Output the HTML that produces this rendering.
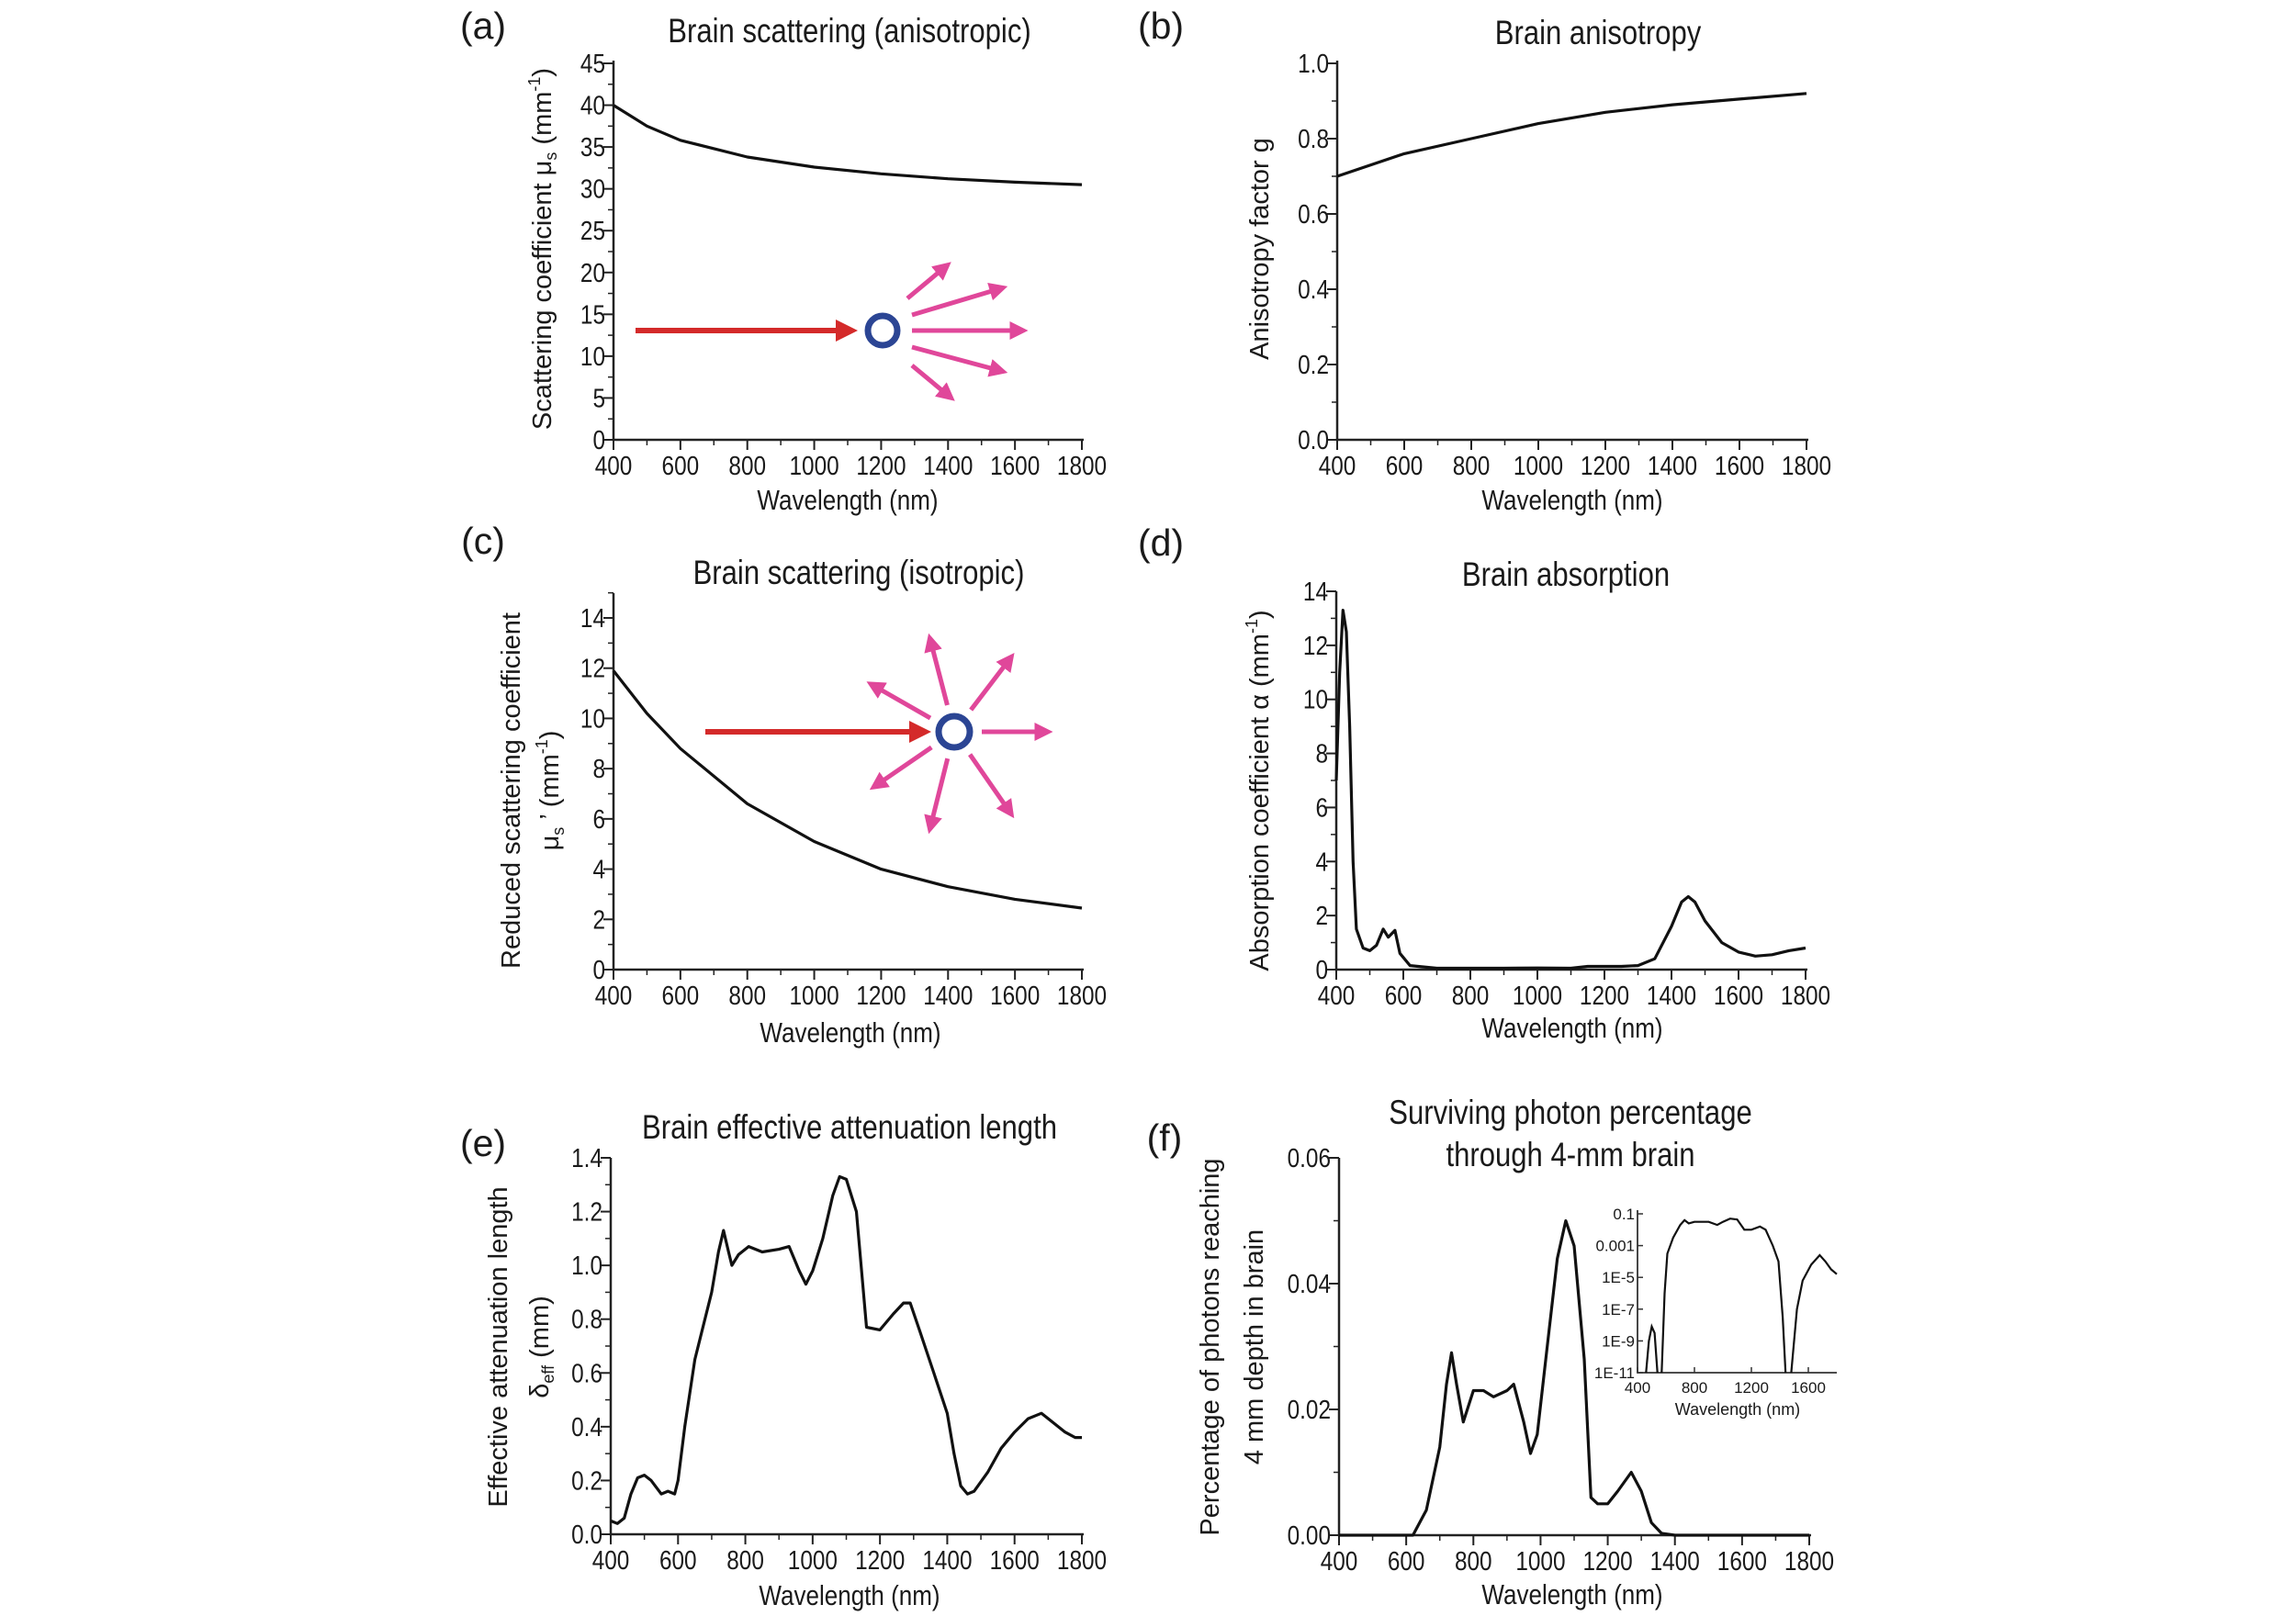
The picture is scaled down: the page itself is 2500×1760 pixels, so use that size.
<!DOCTYPE html>
<html><head><meta charset="utf-8">
<style>
html,body{margin:0;padding:0;background:#fff;}
svg{display:block;}
text{fill:#1a1a1a;}
.nar{font-family:"Liberation Sans Narrow","Liberation Sans",sans-serif;}
.reg{font-family:"Liberation Sans","DejaVu Sans",sans-serif;}
</style></head>
<body>
<svg id="fig" width="2500" height="1760" viewBox="0 0 2500 1760" xmlns="http://www.w3.org/2000/svg">
<defs>
<marker id="arRed" markerWidth="4" markerHeight="4" refX="2.5" refY="2" orient="auto" markerUnits="strokeWidth"><path d="M0,0 L4,2 L0,4 z" fill="#d42a2a"/></marker>
<marker id="arPink" markerWidth="4" markerHeight="4" refX="2.5" refY="2" orient="auto" markerUnits="strokeWidth"><path d="M0,0 L4,2 L0,4 z" fill="#e0479a"/></marker>
</defs>
</svg>
<script>
// ---- data ----
const wlA = [400,500,600,800,1000,1200,1400,1600,1800];
const muS = [40,37.5,35.8,33.8,32.6,31.8,31.2,30.8,30.5];
const wlB = [400,600,800,1000,1200,1400,1600,1800];
const gVals = [0.70,0.76,0.80,0.84,0.87,0.89,0.905,0.92];
const wlC = [400,500,600,800,1000,1200,1400,1600,1800];
const muSr = [11.9,10.2,8.8,6.6,5.1,4.0,3.3,2.8,2.45];
const wlD = [400,410,420,430,440,450,460,480,500,520,540,555,575,590,620,700,900,1000,1100,1150,1250,1300,1350,1400,1430,1450,1470,1500,1550,1600,1650,1700,1750,1800];
const absD = [7,11,13.3,12.5,9,4,1.5,0.8,0.7,0.9,1.5,1.2,1.45,0.6,0.15,0.05,0.05,0.06,0.05,0.12,0.12,0.15,0.4,1.6,2.5,2.7,2.5,1.8,1.0,0.65,0.5,0.55,0.7,0.8];
const wlE = [400,420,440,460,480,500,520,550,570,590,600,620,650,700,720,735,750,760,780,810,850,900,930,960,980,1000,1030,1060,1080,1100,1130,1160,1200,1240,1270,1290,1320,1360,1400,1420,1440,1460,1480,1520,1560,1600,1640,1680,1710,1750,1780,1800];
const attE = [0.05,0.04,0.06,0.15,0.21,0.22,0.2,0.15,0.16,0.15,0.2,0.4,0.65,0.9,1.05,1.13,1.05,1.0,1.04,1.07,1.05,1.06,1.07,0.98,0.93,0.98,1.1,1.26,1.33,1.32,1.2,0.77,0.76,0.82,0.86,0.86,0.75,0.6,0.45,0.3,0.18,0.15,0.16,0.23,0.32,0.38,0.43,0.45,0.42,0.38,0.36,0.36];
const wlF = [400,620,660,700,720,735,750,770,800,830,860,900,920,950,970,990,1020,1050,1075,1100,1130,1150,1170,1200,1230,1270,1300,1330,1360,1400,1800];
const pctF = [0,0,0.004,0.014,0.024,0.029,0.024,0.018,0.023,0.023,0.022,0.023,0.024,0.018,0.013,0.016,0.03,0.044,0.05,0.046,0.028,0.006,0.005,0.005,0.007,0.010,0.007,0.002,0.0003,0,0];
const wlIn1 = [460,480,500,520,540];
const logIn1 = [-11,-9,-8.1,-8.5,-11];
const wlIn2 = [570,590,610,650,700,730,760,800,900,960,1000,1050,1100,1150,1200,1260,1300,1350,1390,1420,1440];
const logIn2 = [-11,-6,-3.5,-2.5,-1.7,-1.4,-1.6,-1.5,-1.5,-1.7,-1.5,-1.3,-1.35,-2.0,-2.0,-1.8,-2.0,-3.0,-4.0,-7.5,-11];
const wlIn3 = [1480,1520,1560,1620,1680,1720,1760,1800];
const logIn3 = [-11,-7,-5.2,-4.2,-3.6,-4.0,-4.5,-4.8];
const xTicks = [400,600,800,1000,1200,1400,1600,1800];
const ticksA = [0,5,10,15,20,25,30,35,40,45];
const ticksB = [0.0,0.2,0.4,0.6,0.8,1.0];
const ticksC = [0,2,4,6,8,10,12,14];
const ticksD = [0,2,4,6,8,10,12,14];
const ticksE = [0.0,0.2,0.4,0.6,0.8,1.0,1.2,1.4];
const ticksF = [0.00,0.02,0.04,0.06];
const inXTicks = [400,800,1200,1600];
const inYTicks = [-1,-3,-5,-7,-9,-11];
const inYLabels = ["0.1","0.001","1E-5","1E-7","1E-9","1E-11"];

const NS="http://www.w3.org/2000/svg";
const svg=document.getElementById('fig');
function mk(tag,attrs,parent){const e=document.createElementNS(NS,tag);for(const k in attrs)e.setAttribute(k,attrs[k]);(parent||svg).appendChild(e);return e;}
function txt(s,x,y,size,cls,parent,anchor){
  const a={'font-size':size,class:cls,'text-anchor':anchor||'middle'};
  if(cls==='nar'){a.x=0;a.y=0;a.transform=`translate(${x},${y}) scale(0.84,1)`;}else{a.x=x;a.y=y;}
  const t=mk('text',a,parent);t.textContent=s;return t;}

function panel(o){
  const g=mk('g',{});
  
  
  const X=v=>o.x0+(v-o.xmin)/(o.xmax-o.xmin)*(o.x1-o.x0);
  const Y=v=>o.y0-(v-o.ymin)/(o.ymax-o.ymin)*(o.y0-o.y1);
  const ax=mk('path',{d:`M${o.x0},${o.ytop} L${o.x0},${o.y0} L${o.x1+2},${o.y0}`,stroke:'#222',fill:'none','stroke-width':2.5},g);
  
  
  o.xt.forEach((v,i)=>{
    mk('line',{x1:X(v),x2:X(v),y1:o.y0,y2:o.y0+11,stroke:'#222','stroke-width':2},g);
    if(i<o.xt.length-1){const m=X(v+100);mk('line',{x1:m,x2:m,y1:o.y0,y2:o.y0+6,stroke:'#222','stroke-width':1.5},g);}
    const t=txt(String(v),X(v),o.y0+38,o.tfs||29,'nar',g);
    
    
  });
  o.yt.forEach((v,i)=>{
    mk('line',{x1:o.x0-11,x2:o.x0,y1:Y(v),y2:Y(v),stroke:'#222','stroke-width':2},g);
    const nv=i<o.yt.length-1?(v+o.yt[i+1])/2:v+(v-o.yt[i-1])/2;
    if(Y(nv)>=o.ytop-1) mk('line',{x1:o.x0-6,x2:o.x0,y1:Y(nv),y2:Y(nv),stroke:'#222','stroke-width':1.5},g);
    const t=txt(o.fmt(v),o.x0-9,Y(v)+10,o.tfs||29,'nar',g,'end');
    
    
  });
  (o.series).forEach(s=>{
    let d='';s.x.forEach((v,i)=>{d+=(i?'L':'M')+X(v).toFixed(1)+','+Y(s.y[i]).toFixed(1);});
    const p=mk('path',{d:d,stroke:'#111',fill:'none','stroke-width':o.sw||3.2,'stroke-linejoin':'round'},g);
    
    
  });
  return {g,X,Y};
}
const f1=v=>v.toFixed(1), f0=v=>String(v), f2=v=>v.toFixed(2);

panel({name:'panel-a',x0:668,x1:1178,xmin:400,xmax:1800,y0:479,y1:69,ytop:66,ymin:0,ymax:45,xt:xTicks,yt:ticksA,fmt:f0,series:[{name:'scattering-line',x:wlA,y:muS}]});
panel({name:'panel-b',x0:1456,x1:1967,xmin:400,xmax:1800,y0:479,y1:69,ytop:66,ymin:0,ymax:1,xt:xTicks,yt:ticksB,fmt:f1,series:[{name:'anisotropy-line',x:wlB,y:gVals}]});
panel({name:'panel-c',x0:668,x1:1178,xmin:400,xmax:1800,y0:1056,y1:673,ytop:646,ymin:0,ymax:14,xt:xTicks,yt:ticksC,fmt:f0,series:[{name:'reduced-scattering-line',x:wlC,y:muSr}]});
panel({name:'panel-d',x0:1455,x1:1966,xmin:400,xmax:1800,y0:1056,y1:644,ytop:644,ymin:0,ymax:14,xt:xTicks,yt:ticksD,fmt:f0,series:[{name:'absorption-line',x:wlD,y:absD}]});
panel({name:'panel-e',x0:665,x1:1178,xmin:400,xmax:1800,y0:1671,y1:1261,ytop:1261,ymin:0,ymax:1.4,xt:xTicks,yt:ticksE,fmt:f1,series:[{name:'attenuation-line',x:wlE,y:attE}]});
panel({name:'panel-f',x0:1458,x1:1970,xmin:400,xmax:1800,y0:1672,y1:1261,ytop:1261,ymin:0,ymax:0.06,xt:xTicks,yt:ticksF,fmt:f2,series:[{name:'surviving-photon-line',x:wlF,y:pctF}]});

(function(){
  const g=mk('g',{});
  
  
  const x0=1783,x1=2000,y0=1495,y1=1322;
  const X=v=>x0+(v-400)/1400*(x1-x0);
  const Y=v=>y0-(v+11)/10*(y0-y1);
  mk('path',{d:`M${x0},${y1-4} L${x0},${y0} L${x1},${y0}`,stroke:'#333',fill:'none','stroke-width':1.8},g);
  inYTicks.forEach((v,i)=>{
    mk('line',{x1:x0,x2:x0+6,y1:Y(v),y2:Y(v),stroke:'#333','stroke-width':1.5},g);
    const t=txt(inYLabels[i],x0-3,Y(v)+6,17,'reg',g,'end');
    
    
  });
  inXTicks.forEach(v=>{
    mk('line',{x1:X(v),x2:X(v),y1:y0,y2:y0-6,stroke:'#333','stroke-width':1.5},g);
    const t=txt(String(v),X(v),y0+22,17,'reg',g);
    
    
  });
  const xl=txt('Wavelength (nm)',1892,1541,18,'reg',g);
  
  
  [[wlIn1,logIn1],[wlIn2,logIn2],[wlIn3,logIn3]].forEach(s=>{
    let d='';s[0].forEach((v,i)=>{d+=(i?'L':'M')+X(v).toFixed(1)+','+Y(s[1][i]).toFixed(1);});
    const p=mk('path',{d:d,stroke:'#111',fill:'none','stroke-width':2.2},g);
    
    
  });
})();
</script>

<script>
(function(){
const L=[
 ['panel-label-a','(a)',526,42,41,'reg'],['panel-label-b','(b)',1264,42,41,'reg'],
 ['panel-label-c','(c)',526,603,41,'reg'],['panel-label-d','(d)',1264,605,41,'reg'],
 ['panel-label-e','(e)',526,1259,41,'reg'],['panel-label-f','(f)',1268,1253,41,'reg'],
 ['title-a','Brain scattering (anisotropic)',925,46,37,'nar'],
 ['title-b','Brain anisotropy',1740,48,37,'nar'],
 ['title-c','Brain scattering (isotropic)',935,636,37,'nar'],
 ['title-d','Brain absorption',1705,638,37,'nar'],
 ['title-e','Brain effective attenuation length',925,1240,37,'nar'],
 ['title-f-line1','Surviving photon percentage',1710,1224,37,'nar'],
 ['title-f-line2','through 4-mm brain',1710,1270,37,'nar'],
 ['x-axis-title-a','Wavelength (nm)',923,555,31,'nar'],['x-axis-title-b','Wavelength (nm)',1712,555,31,'nar'],
 ['x-axis-title-c','Wavelength (nm)',926,1135,31,'nar'],['x-axis-title-d','Wavelength (nm)',1712,1130,31,'nar'],
 ['x-axis-title-e','Wavelength (nm)',925,1748,31,'nar'],['x-axis-title-f','Wavelength (nm)',1712,1747,31,'nar']];
const fig=document.getElementById('fig');const NS="http://www.w3.org/2000/svg";
L.forEach(l=>{const t=document.createElementNS(NS,'text');
 if(l[5]==='nar'){t.setAttribute('x',0);t.setAttribute('y',0);t.setAttribute('transform',`translate(${l[2]},${l[3]}) scale(0.84,1)`);}
 else{t.setAttribute('x',l[2]);t.setAttribute('y',l[3]);}
 t.setAttribute('font-size',l[4]);t.setAttribute('class',l[5]);t.setAttribute('text-anchor','middle');
 
 
 t.textContent=l[1];fig.appendChild(t);});
const R=[
 ['y-axis-title-a',['Scattering coefficient μ','s',' (mm','-1',')'],600,271],
 ['y-axis-title-b',['Anisotropy factor g'],1381,271],
 ['y-axis-title-c1',['Reduced scattering coefficient'],566,861],
 ['y-axis-title-c2',['μ','s',' \u2019 (mm','-1',')'],608,861],
 ['y-axis-title-d',['Absorption coefficient α (mm','-1',')'],1381,861],
 ['y-axis-title-e1',['Effective attenuation length'],552,1467],
 ['y-axis-title-e2',['δ','eff',' (mm)'],597,1467],
 ['y-axis-title-f1',['Percentage of photons reaching'],1327,1467],
 ['y-axis-title-f2',['4 mm depth in brain'],1375,1467]];
R.forEach(r=>{const t=document.createElementNS(NS,'text');
 t.setAttribute('transform',`translate(${r[2]},${r[3]}) rotate(-90)`);
 t.setAttribute('font-size',29);t.setAttribute('class','reg');t.setAttribute('text-anchor','middle');
 
 
 const parts=r[1];
 parts.forEach((p,i)=>{const s=document.createElementNS(NS,'tspan');s.textContent=p;
  const sub=(parts.length===5&&(i===1))||(parts.length===3&&i===1&&p==='eff');
  const sup=p==='-1';
  if(sub){s.setAttribute('font-size',18);s.setAttribute('dy',6);}
  else if(sup){s.setAttribute('font-size',18);s.setAttribute('dy',-12);}
  else if(i>0){const prev=parts[i-1];if(prev==='-1')s.setAttribute('dy',12);else if(prev==='s'||prev==='eff')s.setAttribute('dy',-6);}
  t.appendChild(s);});
 fig.appendChild(t);});
function line(name,x1,y1,x2,y2,color,mid,w){const l=document.createElementNS(NS,'line');
 l.setAttribute('x1',x1);l.setAttribute('y1',y1);l.setAttribute('x2',x2);l.setAttribute('y2',y2);
 l.setAttribute('stroke',color);l.setAttribute('stroke-width',w);l.setAttribute('marker-end','url(#'+mid+')');
 
 
 fig.appendChild(l);}
function circ(name,cx,cy,r){const c=document.createElementNS(NS,'circle');
 c.setAttribute('cx',cx);c.setAttribute('cy',cy);c.setAttribute('r',r);c.setAttribute('fill','#fff');c.setAttribute('stroke','#2b4594');c.setAttribute('stroke-width',7);
 
 
 fig.appendChild(c);}
line('incident-arrow-a',692,360,925,360,'#d42a2a','arRed',6);
circ('scatterer-a',961,360,16);
[[988,325,1030,290],[993,343,1090,314],[993,360,1112,360],[993,378,1090,404],[993,398,1034,432]].forEach(a=>line('scattered-arrow-a',a[0],a[1],a[2],a[3],'#e0479a','arPink',5));
line('incident-arrow-c',768,797,1005,797,'#d42a2a','arRed',6);
circ('scatterer-c',1039,797,17);
const cx=1039,cy=797;
[[-26,-100],[61,-80],[-89,-51],[100,0],[-86,59],[-26,104],[61,88]].forEach(v=>{
  const L2=Math.hypot(v[0],v[1]);const sx=cx+v[0]/L2*30,sy=cy+v[1]/L2*30;
  line('scattered-arrow-c',sx,sy,cx+v[0],cy+v[1],'#e0479a','arPink',5);});
})();
</script>
</body></html>
